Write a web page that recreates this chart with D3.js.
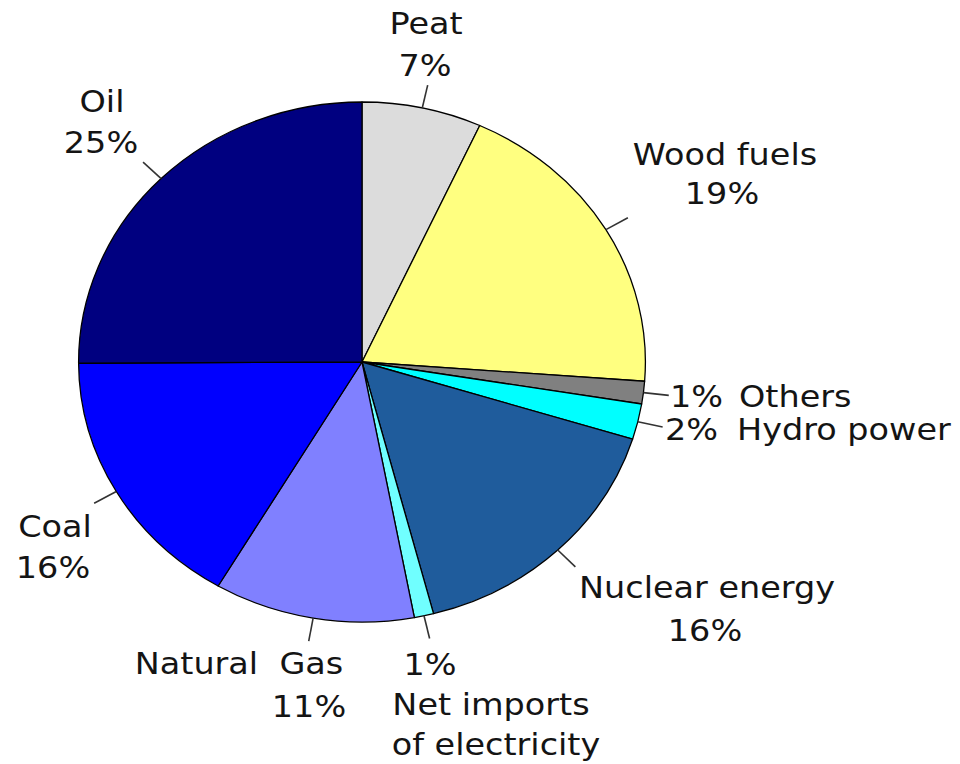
<!DOCTYPE html>
<html>
<head>
<meta charset="utf-8">
<script src="https://cdn.jsdelivr.net/npm/d3@7/dist/d3.min.js"></script>
<style>
  html, body { margin: 0; padding: 0; background: #ffffff; }
  svg { display: block; }
  text { font-family: "DejaVu Sans", Verdana, sans-serif; fill: #141414; white-space: pre; }
</style>
</head>
<body>
<svg id="chart" width="960" height="764"></svg>
<script>
// Energy sources, share of total consumption (%)
const categories = ["Peat", "Wood fuels", "Others", "Hydro power", "Nuclear energy",
                    "Net imports of electricity", "Natural Gas", "Coal", "Oil"];
const shares = [6.8, 19.3, 1.4, 2.2, 16.1, 1.1, 11.4, 16.4, 25.0];
const nameLines = [["Peat"], ["Wood fuels"], ["Others"], ["Hydro power"], ["Nuclear energy"],
                   ["Net imports", "of electricity"], ["Natural  Gas"], ["Coal"], ["Oil"]];
const sliceColors = ["#dcdcdc", "#ffff80", "#808080", "#00ffff", "#1f5c9c",
                     "#70ffff", "#8080ff", "#0000ff", "#000080"];

// Label placement: [line ("pct" or name line index), x, baseline y, anchor]
const labelLayout = {
  "Peat":                       [[0, 426, 34, "middle"], ["pct", 425, 76, "middle"]],
  "Wood fuels":                 [[0, 725, 165, "middle"], ["pct", 722, 204, "middle"]],
  "Others":                     [["pct", 670, 407, "start"], [0, 739, 407, "start"]],
  "Hydro power":                [["pct", 665, 440, "start"], [0, 737, 440, "start"]],
  "Nuclear energy":             [[0, 707, 598, "middle"], ["pct", 705, 641, "middle"]],
  "Net imports of electricity": [["pct", 430, 675, "middle"], [0, 491, 715, "middle"], [1, 496, 755, "middle"]],
  "Natural Gas":                [[0, 239, 674, "middle"], ["pct", 309, 717, "middle"]],
  "Coal":                       [[0, 55, 537, "middle"], ["pct", 53, 578, "middle"]],
  "Oil":                        [[0, 102, 112, "middle"], ["pct", 101, 153, "middle"]]
};

const cx = 362, cy = 362, radius = 260, stretchX = 1.09;
const fontSize = 30.7;

const svg = d3.select("#chart");

const data = categories.map((c, i) => ({ name: c, value: shares[i], color: sliceColors[i], lines: nameLines[i] }));

const pie = d3.pie().sort(null).value(d => d.value).startAngle(0).endAngle(2 * Math.PI);
const arcs = pie(data);

const arc = d3.arc().innerRadius(0).outerRadius(radius);

const g = svg.append("g")
  .attr("transform", `translate(${cx},${cy}) scale(${stretchX},1)`);

g.selectAll("path.slice")
  .data(arcs)
  .enter().append("path")
  .attr("class", "slice")
  .attr("d", arc)
  .attr("fill", d => d.data.color)
  .attr("stroke", "#000")
  .attr("stroke-width", 1.3)
  .attr("stroke-linejoin", "round")
  .attr("vector-effect", "non-scaling-stroke");

// Leader lines from the rim outward along each slice's mid angle
g.selectAll("line.leader")
  .data(arcs)
  .enter().append("line")
  .attr("class", "leader")
  .each(function(d) {
    const a = (d.startAngle + d.endAngle) / 2;
    const r0 = radius, r1 = radius * 1.09;
    d3.select(this)
      .attr("x1", Math.sin(a) * r0).attr("y1", -Math.cos(a) * r0)
      .attr("x2", Math.sin(a) * r1).attr("y2", -Math.cos(a) * r1);
  })
  .attr("stroke", "#333")
  .attr("stroke-width", 1.6)
  .attr("vector-effect", "non-scaling-stroke");

// Labels
const labels = svg.append("g").attr("class", "labels");
data.forEach(d => {
  const pct = Math.round(d.value) + "%";
  labelLayout[d.name].forEach(([line, x, y, anchor]) => {
    labels.append("text")
      .attr("transform", `translate(${x},${y}) scale(${stretchX},1)`)
      .attr("text-anchor", anchor)
      .attr("font-size", fontSize)
      .text(line === "pct" ? pct : d.lines[line]);
  });
});
</script>
</body>
</html>
